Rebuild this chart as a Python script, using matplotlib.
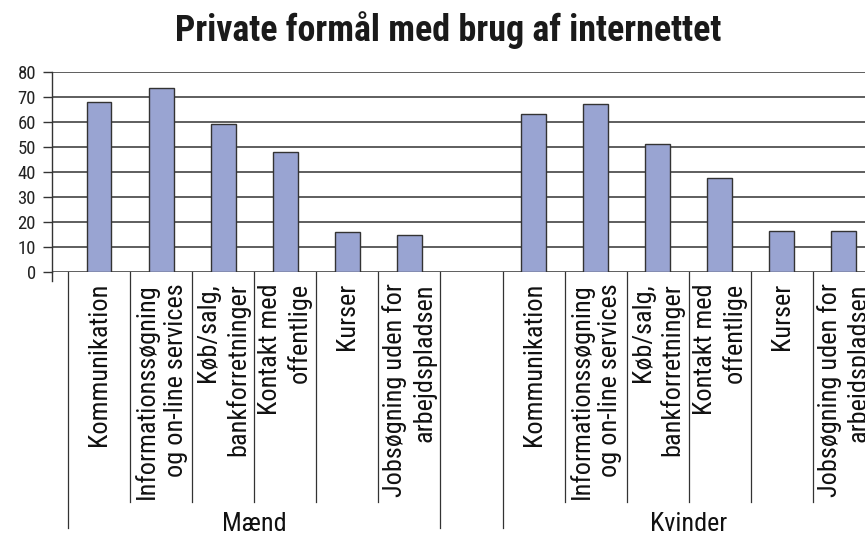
import matplotlib
matplotlib.use("Agg")
import matplotlib.pyplot as plt
import matplotlib.transforms as mtransforms
from matplotlib import font_manager

# ---- data ----
title = "Private formål med brug af internettet"
groups = ["Mænd", "Kvinder"]
categories = ["Kommunikation",
              "Informationssøgning\nog on-line services",
              "Køb/salg,\nbankforretninger",
              "Kontakt med\noffentlige",
              "Kurser",
              "Jobsøgning uden for\narbejdspladsen"]
maend = [68, 73.5, 59, 48, 16, 15]
kvinder = [63, 67, 51, 37.5, 16.5, 16.5]
yticks = [0, 10, 20, 30, 40, 50, 60, 70, 80]

# ---- fonts: prefer a condensed sans if installed ----
entries = font_manager.fontManager.ttflist
names = {f.name for f in entries}
cond = None
for nm in ["Roboto Condensed", "Open Sans Condensed", "Liberation Sans Narrow",
           "DejaVu Sans Condensed", "Noto Sans Condensed", "Noto Sans Display Condensed"]:
    if nm in names:
        cond = nm
        break
stretch = "normal"
if cond is None:
    for f in entries:
        if f.name in ("Noto Sans", "Open Sans", "Roboto") and str(f.stretch) in ("condensed", "semi-condensed"):
            cond = f.name
            stretch = "condensed"
            break
if cond is None:
    cond = "Roboto" if "Roboto" in names else "DejaVu Sans"
plt.rcParams['font.family'] = [cond, "DejaVu Sans"]
plt.rcParams['font.stretch'] = stretch

W, H = 865, 536
fig = plt.figure(figsize=(W / 100, H / 100), dpi=100)
renderer = fig.canvas.get_renderer()


def fit_size(s, target_px, weight="normal"):
    t = fig.text(0, 0, s, fontsize=10, fontweight=weight)
    w = t.get_window_extent(renderer).width
    t.remove()
    return 10 * target_px / w


cat_fs = min(fit_size("Kommunikation", 169), fit_size("Informationssøgning", 214))
grp_fs = (fit_size("Mænd", 64) + fit_size("Kvinder", 78)) / 2
title_fs = fit_size(title, 547, "bold")

ax = fig.add_axes([52 / W, (H - 272) / H, 1 - 52 / W, 200 / H])

n = len(categories)
x_m = list(range(n))
x_k = [n + 1 + i for i in range(n)]
bar_color = "#99A4D2"
ax.bar(x_m, maend, width=0.40, color=bar_color, edgecolor="#333333", linewidth=1.0, zorder=3)
ax.bar(x_k, kvinder, width=0.40, color=bar_color, edgecolor="#333333", linewidth=1.0, zorder=3)

ax.set_xlim(-0.758, 12.34)
ax.set_ylim(0, 80)
ax.set_yticks(yticks)
ax.set_yticklabels([str(v) for v in yticks], fontsize=13.5, color="#222222")
ax.tick_params(axis='y', direction='out', length=6.5, width=1.0, color="#333333", pad=5)
ax.set_xticks([])
for s in ["top", "right", "bottom"]:
    ax.spines[s].set_visible(False)
ax.spines["left"].set_color("#333333")
ax.spines["left"].set_linewidth(1.0)
ax.yaxis.grid(True, color="#333333", linewidth=1.1, zorder=0)
ax.set_axisbelow(True)

trans = mtransforms.blended_transform_factory(ax.transData, ax.transAxes)
# small extension of y-axis below zero
ax.plot([-0.758, -0.758], [0, -0.045], transform=trans, color="#333333", lw=1.0, clip_on=False)

# category dividers
short_b, long_b = -1.15, -1.28
for grp_x in (x_m, x_k):
    for i, xc in enumerate(grp_x):
        left = xc - 0.5
        bottom = long_b if i == 0 else short_b
        ax.plot([left, left], [0, bottom], transform=trans, color="#333333", lw=0.9, clip_on=False)
    right = grp_x[-1] + 0.5
    ax.plot([right, right], [0, long_b], transform=trans, color="#333333", lw=0.9, clip_on=False)

# category labels
for grp_x in (x_m, x_k):
    for xc, lab in zip(grp_x, categories):
        ax.text(xc, -0.055, lab, transform=trans, rotation=90, ha='center', va='top',
                multialignment='right', fontsize=cat_fs, linespacing=1.25, color="#111111")

# group labels
for grp_x, g in zip((x_m, x_k), groups):
    xc = (grp_x[0] + grp_x[-1]) / 2
    ax.text(xc, (272 - 531) / 200, g, transform=trans, ha='center', va='baseline',
            fontsize=grp_fs, color="#111111")

fig.text(448 / W, 1 - 41 / H, title, ha='center', va='baseline', fontsize=title_fs,
         fontweight='bold', color="#1a1a1a")

fig.savefig("out.png", dpi=100)
